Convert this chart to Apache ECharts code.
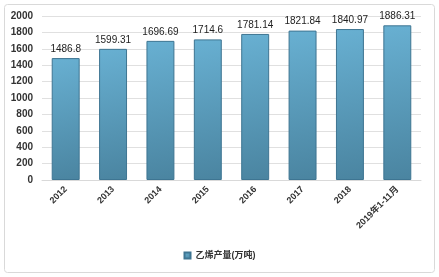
<!DOCTYPE html>
<html><head><meta charset="utf-8">
<script src="https://cdn.jsdelivr.net/npm/echarts@6/dist/echarts.min.js"></script>
<style>html,body{margin:0;padding:0;background:#fff}#c{width:439px;height:277px}</style>
</head><body><div id="c"></div>
<script>
const categories = ['2012','2013','2014','2015','2016','2017','2018','2019年1-11月'];
const values = [1486.8, 1599.31, 1696.69, 1714.6, 1781.14, 1821.84, 1840.97, 1886.31];
const seriesName = '乙烯产量(万吨)';
const yTicks = {min: 0, max: 2000, interval: 200};

const chart = echarts.init(document.getElementById('c'));
chart.setOption({
  animation: false,
  textStyle: {fontFamily: 'Liberation Sans, Noto Sans CJK SC, sans-serif'},
  graphic: [{type: 'rect', shape: {x: 4.5, y: 4.5, width: 430, height: 268, r: 3}, style: {fill: 'none', stroke: '#d9d9d9', lineWidth: 1}, z: -1}],
  grid: {left: 42, right: 18, top: 16, bottom: 97, containLabel: false},
  xAxis: {
    type: 'category', data: categories,
    axisLine: {lineStyle: {color: '#d9d9d9'}},
    axisTick: {show: false},
    axisLabel: {rotate: 45, interval: 0, fontSize: 9, fontWeight: 'bold', color: '#333', margin: 8}
  },
  yAxis: {
    type: 'value', min: yTicks.min, max: yTicks.max, interval: yTicks.interval,
    axisLine: {show: false}, axisTick: {show: false},
    splitLine: {lineStyle: {color: '#e0e0e0'}},
    axisLabel: {fontSize: 10, fontWeight: 'bold', color: '#333', margin: 9, formatter: v => String(v)}
  },
  legend: {
    bottom: 12, left: 'center', itemWidth: 6, itemHeight: 6, itemGap: 4,
    textStyle: {fontSize: 9, fontWeight: 'bold', color: '#333'},
    icon: 'rect', data: [seriesName]
  },
  series: [{
    type: 'bar', name: seriesName, data: values, barCategoryGap: '41%',
    itemStyle: {
      color: new echarts.graphic.LinearGradient(0, 0, 1, 1, [
        {offset: 0, color: '#68b0d2'}, {offset: 1, color: '#4a84a0'}
      ]),
      borderColor: '#3e7592', borderWidth: 1
    },
    label: {show: true, position: 'top', fontSize: 10, color: '#222', distance: 4}
  }]
});
</script></body></html>
